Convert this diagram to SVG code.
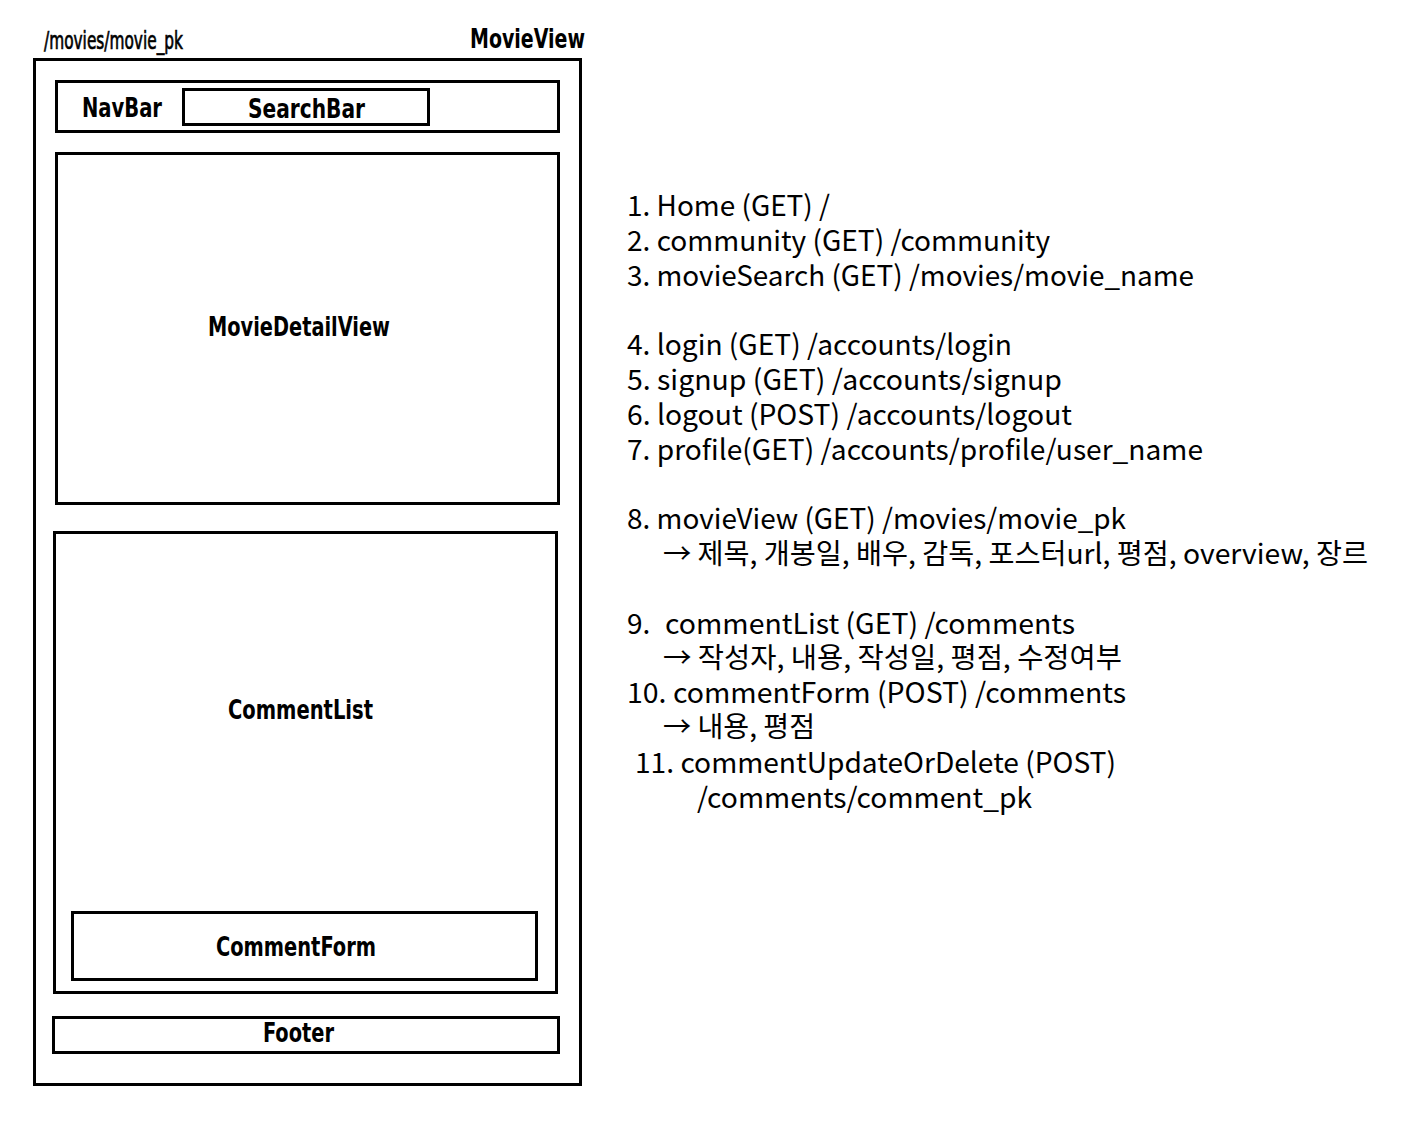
<svg xmlns="http://www.w3.org/2000/svg" width="1411" height="1133" viewBox="0 0 1411 1133">
<style>
.box{fill:none;stroke:#000;stroke-width:3}
.lbl{font-family:"DejaVu Sans Condensed","DejaVu Sans",sans-serif;font-stretch:condensed;font-weight:bold;font-size:26px;fill:#000}
.path{font-family:"DejaVu Sans Condensed","DejaVu Sans",sans-serif;font-stretch:condensed;font-size:25px;fill:#000;stroke:#000;stroke-width:0.7}
.api{font-family:"Noto Sans CJK KR","Noto Sans",sans-serif;font-size:28px;fill:#000}
</style>
<rect width="1411" height="1133" fill="#fff"/>
<g id="MovieView">
<rect class="box" x="34.5" y="59.5" width="546" height="1025"/>
<text class="path" x="44" y="49" textLength="139" lengthAdjust="spacingAndGlyphs">/movies/movie_pk</text>
<text class="lbl" x="470" y="48" textLength="115" lengthAdjust="spacingAndGlyphs">MovieView</text>
</g>
<g id="NavBar">
<rect class="box" x="56.5" y="81.5" width="502" height="50"/>
<text class="lbl" x="82" y="117" textLength="80" lengthAdjust="spacingAndGlyphs">NavBar</text>
</g>
<g id="SearchBar">
<rect class="box" x="183.5" y="89.5" width="245" height="35"/>
<text class="lbl" x="248" y="118" textLength="117" lengthAdjust="spacingAndGlyphs">SearchBar</text>
</g>
<g id="MovieDetailView">
<rect class="box" x="56.5" y="153.5" width="502" height="350"/>
<text class="lbl" x="208" y="336" textLength="182" lengthAdjust="spacingAndGlyphs">MovieDetailView</text>
</g>
<g id="CommentList">
<rect class="box" x="54.5" y="532.5" width="502" height="460"/>
<text class="lbl" x="228" y="719" textLength="145" lengthAdjust="spacingAndGlyphs">CommentList</text>
</g>
<g id="CommentForm">
<rect class="box" x="72.5" y="912.5" width="464" height="67"/>
<text class="lbl" x="216" y="956" textLength="160" lengthAdjust="spacingAndGlyphs">CommentForm</text>
</g>
<g id="Footer">
<rect class="box" x="53.5" y="1017.5" width="505" height="35"/>
<text class="lbl" x="263" y="1042" textLength="71" lengthAdjust="spacingAndGlyphs">Footer</text>
</g>
<g id="connectors"/>
<g id="api-list">
<text class="api" x="627" y="216" textLength="203" lengthAdjust="spacingAndGlyphs">1. Home (GET) /</text>
<text class="api" x="627" y="251" textLength="423" lengthAdjust="spacingAndGlyphs">2. community (GET) /community</text>
<text class="api" x="627" y="286" textLength="567" lengthAdjust="spacingAndGlyphs">3. movieSearch (GET) /movies/movie_name</text>
<text class="api" x="627" y="355" textLength="385" lengthAdjust="spacingAndGlyphs">4. login (GET) /accounts/login</text>
<text class="api" x="627" y="390" textLength="435" lengthAdjust="spacingAndGlyphs">5. signup (GET) /accounts/signup</text>
<text class="api" x="627" y="425" textLength="445" lengthAdjust="spacingAndGlyphs">6. logout (POST) /accounts/logout</text>
<text class="api" x="627" y="460" textLength="576" lengthAdjust="spacingAndGlyphs">7. profile(GET) /accounts/profile/user_name</text>
<text class="api" x="627" y="529" textLength="499" lengthAdjust="spacingAndGlyphs">8. movieView (GET) /movies/movie_pk</text>
<text class="api" x="663" y="564" textLength="705" lengthAdjust="spacingAndGlyphs">→ 제목, 개봉일, 배우, 감독, 포스터url, 평점, overview, 장르</text>
<text class="api" x="627" y="634">9.</text>
<text class="api" x="665" y="634" textLength="410" lengthAdjust="spacingAndGlyphs">commentList (GET) /comments</text>
<text class="api" x="663" y="668" textLength="459" lengthAdjust="spacingAndGlyphs">→ 작성자, 내용, 작성일, 평점, 수정여부</text>
<text class="api" x="627" y="703" textLength="499" lengthAdjust="spacingAndGlyphs">10. commentForm (POST) /comments</text>
<text class="api" x="663" y="737" textLength="152" lengthAdjust="spacingAndGlyphs">→ 내용, 평점</text>
<text class="api" x="635" y="773" textLength="481" lengthAdjust="spacingAndGlyphs">11. commentUpdateOrDelete (POST)</text>
<text class="api" x="697" y="808" textLength="335" lengthAdjust="spacingAndGlyphs">/comments/comment_pk</text>
</g>
</svg>
